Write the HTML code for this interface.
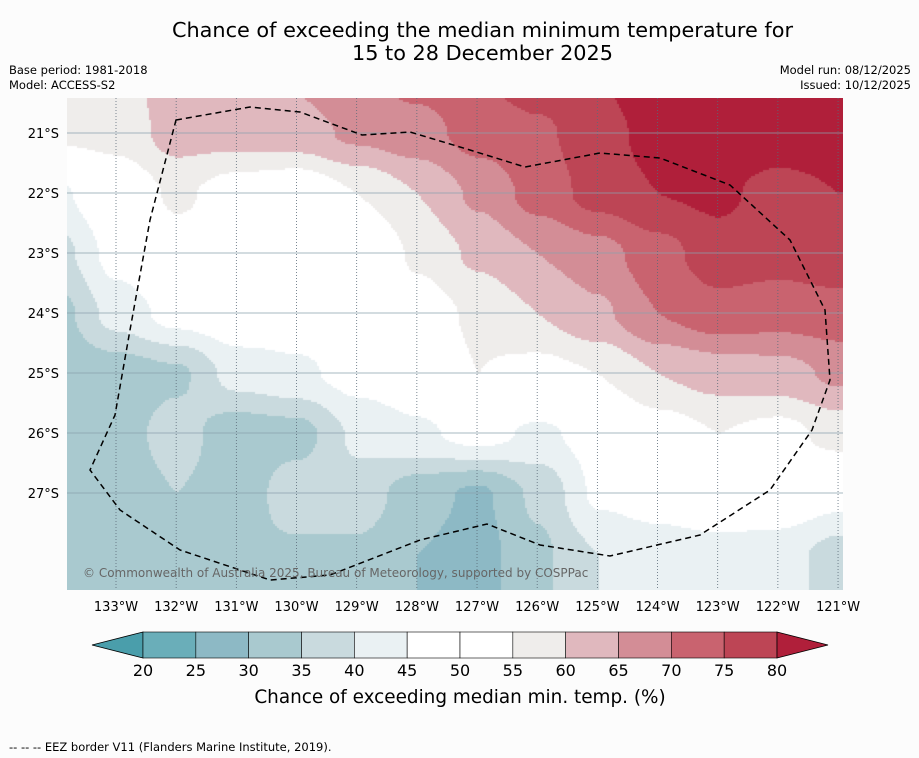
<!DOCTYPE html>
<html><head><meta charset="utf-8">
<style>
body{margin:0;background:#fcfcfc;font-family:"DejaVu Sans","Liberation Sans",sans-serif;}
#wrap{position:relative;width:919px;height:758px;overflow:hidden;background:#fcfcfc;}
.t{position:absolute;color:#000;white-space:nowrap;}
</style></head>
<body>
<div id="wrap">
<div class="t" style="left:0;width:965px;top:19px;text-align:center;font-size:20.8px;line-height:23px;">Chance of exceeding the median minimum temperature for<br>15 to 28 December 2025</div>
<div class="t" style="left:9px;top:63px;font-size:11.5px;line-height:15px;">Base period: 1981-2018<br>Model: ACCESS-S2</div>
<div class="t" style="right:8px;top:63px;font-size:11.5px;line-height:15px;text-align:right;">Model run: 08/12/2025<br>Issued: 10/12/2025</div>
<canvas id="map" width="776" height="492" style="position:absolute;left:67px;top:98px;"></canvas>
<svg id="ov" width="919" height="758" style="position:absolute;left:0;top:0;"></svg>
<div class="t" style="left:9px;top:740px;font-size:11.5px;">--  --  -- EEZ border V11 (Flanders Marine Institute, 2019).</div>
</div>
<script>
const lonsW=[134,133,132,131,130,129,128,127,126,125,124,123,122,121,120];
const latsS=[20,21,22,23,24,25,26,27,28,29];
const values=[
[57,58,63,64,66,70,72,75,78,80,84,84,84,84,84],
[56,57,62,62,63,66,68,72,74,78,82,83,83,83,83],
[44,50,56,52,50,55,60,66,72,77,80,81,78,80,80],
[38,47,52,54,50,48,56,61,65,68,73,78,77,78,78],
[33,42,47,49,48,49,52,56,60,64,70,73,72,73,73],
[31,32,34,42,44,47,49,55,53,55,60,62,63,66,66],
[30,33,37,32,33,41,44,47,44,47,52,55,53,57,57],
[30,32,35,32,38,38,32,29,36,46,48,50,50,47,47],
[34,34,33,34,34,34,30,28,34,40,42,43,42,38,38],
[34,34,33,34,34,34,30,28,34,40,42,43,42,38,38]];
const levels=[20,25,30,35,40,45,50,55,60,65,70,75,80];
const colors=["#4a9eab","#6aaeb9","#8db9c5","#a9c9cf","#c9dade","#eaf1f3","#ffffff","#ffffff","#efedeb","#e0b8be","#d38d96","#c9636f","#bd4555","#b01f3a"];
const lonTicks=[133,132,131,130,129,128,127,126,125,124,123,122,121];
const latTicks=[21,22,23,24,25,26,27];

const xOf=lon=>116+(133-lon)*60.17;
const yOf=lat=>133+(lat-21)*60;
const lonOf=x=>133-(x-116)/60.17;
const latOf=y=>21+(y-133)/60;

function val(lon,lat){
  let i=(lonsW[0]-lon); i=Math.max(0,Math.min(lonsW.length-1.001,i));
  let j=(lat-latsS[0]); j=Math.max(0,Math.min(latsS.length-1.001,j));
  const i0=Math.floor(i),j0=Math.floor(j),fi=i-i0,fj=j-j0;
  const a=values[j0][i0],b=values[j0][i0+1],c=values[j0+1][i0],d=values[j0+1][i0+1];
  const s=x=>x*x*(3-2*x); const u=s(fi),v=s(fj);
  return (a*(1-u)+b*u)*(1-v)+(c*(1-u)+d*u)*v;
}
function colorOf(v){let k=0;while(k<levels.length&&v>=levels[k])k++;return colors[k];}

const cv=document.getElementById('map'),ctx=cv.getContext('2d');
for(let y=0;y<492;y+=2){for(let x=0;x<776;x+=2){
  ctx.fillStyle=colorOf(val(lonOf(x+67),latOf(y+98)));ctx.fillRect(x,y,2,2);}}

const NS='http://www.w3.org/2000/svg',ov=document.getElementById('ov');
const FF='DejaVu Sans, Liberation Sans, sans-serif';
function mk(tag,at,txt){const e=document.createElementNS(NS,tag);for(const k in at)e.setAttribute(k,at[k]);if(txt!==undefined)e.textContent=txt;ov.appendChild(e);return e;}
latTicks.forEach(l=>{
  const g=mk('line',{x1:67,x2:843,y1:yOf(l),y2:yOf(l),stroke:'#8aa0ad','stroke-width':0.7});
  
  
  const t=mk('text',{x:59,y:yOf(l)+5,'text-anchor':'end','font-size':13,'font-family':FF},l+'°S');
  
  
});
lonTicks.forEach(l=>{
  const g=mk('line',{x1:xOf(l),x2:xOf(l),y1:98,y2:590,stroke:'#5a6a78','stroke-width':0.8,'stroke-dasharray':'1,2'});
  
  
  const t=mk('text',{x:xOf(l),y:611,'text-anchor':'middle','font-size':13,'font-family':FF},l+'°W');
  
  
});
const eez=mk('path',{d:'M176,120 L250,107 L300,112 L362,135 L410,132 L470,150 L525,167 L600,153 L660,158 L730,185 L790,240 L825,310 L830,380 L812,430 L770,490 L700,535 L610,556 L540,545 L487,524 L420,540 L330,575 L270,580 L180,550 L120,510 L90,470 L115,415 L130,330 L150,220 Z',fill:'none',stroke:'#000','stroke-width':1.5,'stroke-dasharray':'6,4'});


const cp=mk('text',{x:83,y:577,'font-size':12,fill:'#666','font-family':FF},'© Commonwealth of Australia 2025, Bureau of Meteorology, supported by COSPPac');



const cbX0=143,cbW=(777-143)/12,cbY=632,cbH=26;
const lt=mk('polygon',{points:`92,645 ${cbX0},${cbY} ${cbX0},${cbY+cbH}`,fill:colors[0],stroke:'#000','stroke-width':0.8});


for(let k=0;k<12;k++){
  const r=mk('rect',{x:cbX0+k*cbW,y:cbY,width:cbW,height:cbH,fill:colors[k+1],stroke:'#000','stroke-width':0.6});
  
  
}
const rt=mk('polygon',{points:`777,${cbY} 828,645 777,${cbY+cbH}`,fill:colors[13],stroke:'#000','stroke-width':0.8});


levels.forEach((l,k)=>{
  const t=mk('text',{x:cbX0+k*cbW,y:676,'text-anchor':'middle','font-size':16,'font-family':FF},l);
  
  
});
const ct=mk('text',{x:460,y:703,'text-anchor':'middle','font-size':18.4,'font-family':FF},'Chance of exceeding median min. temp. (%)');


</script>
</body></html>
